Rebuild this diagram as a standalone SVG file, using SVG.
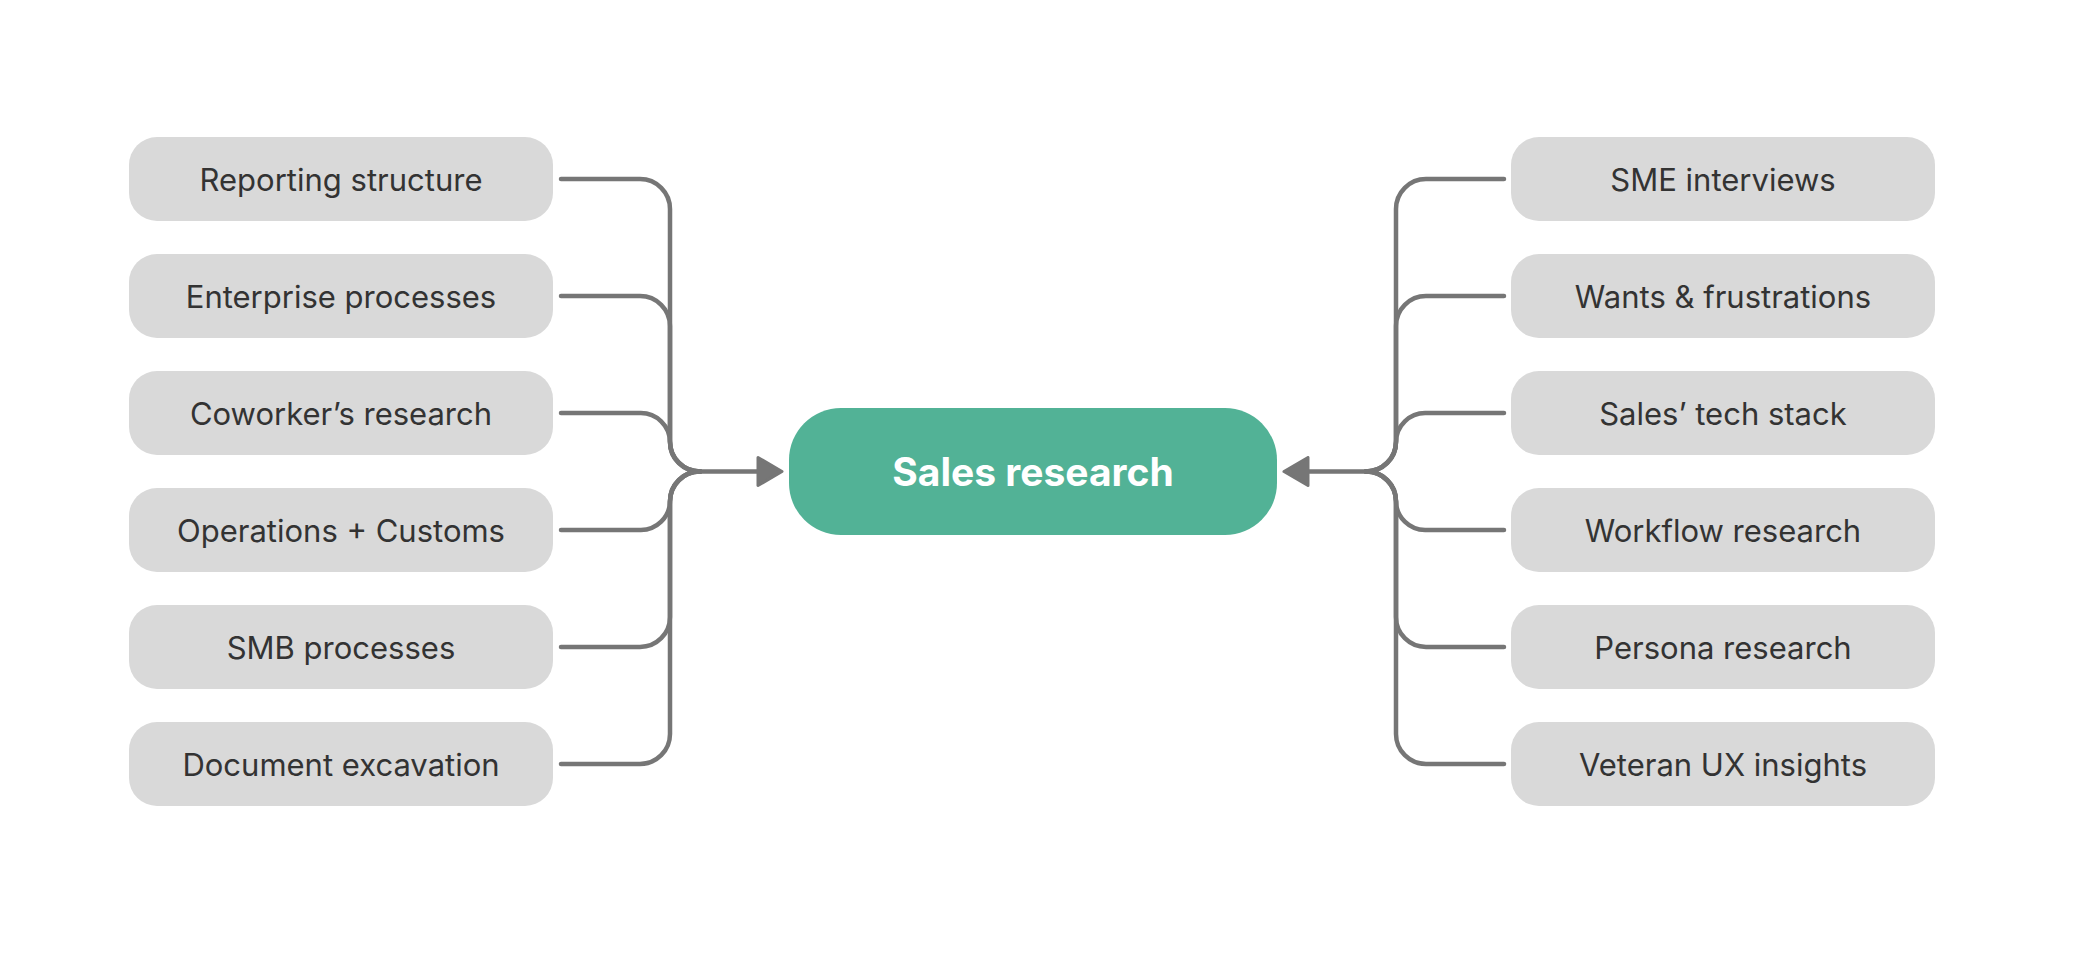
<svg xmlns="http://www.w3.org/2000/svg" width="2086" height="966" viewBox="0 0 2086 966">
<defs>
<style>
.box{fill:#d9d9d9}
.lbl{font-family:Inter,"Liberation Sans",sans-serif;font-size:31px;fill:#333333;text-anchor:middle;dominant-baseline:central}
.ctr{fill:#52b296}
.ctext{font-family:Inter,"Liberation Sans",sans-serif;font-size:39px;font-weight:700;fill:#ffffff;text-anchor:middle;dominant-baseline:central}
.ln{fill:none;stroke:#767676;stroke-width:4.5;stroke-linecap:round;stroke-linejoin:round}
</style>
<marker id="arr" markerUnits="userSpaceOnUse" markerWidth="30" markerHeight="32" viewBox="0 0 30 32" refX="3" refY="16" orient="auto">
<path d="M2,2 L26,16 L2,30 z" fill="#767676" stroke="#767676" stroke-width="3" stroke-linejoin="round"/>
</marker>
</defs>
<rect width="2086" height="966" fill="#ffffff"/>
<g id="connectors">
<path class="ln" d="M561,179 H640 A30,30 0 0 1 670,209 V441.5 A30,30 0 0 0 700,471.5"/>
<path class="ln" d="M561,296 H640 A30,30 0 0 1 670,326 V441.5 A30,30 0 0 0 700,471.5"/>
<path class="ln" d="M561,413 H640 A29.25,29.25 0 0 1 670,442.25 A29.25,29.25 0 0 0 700,471.5"/>
<path class="ln" d="M561,530 H640 A29.25,29.25 0 0 0 670,500.75 A29.25,29.25 0 0 1 700,471.5"/>
<path class="ln" d="M561,647 H640 A30,30 0 0 0 670,617 V501.5 A30,30 0 0 1 700,471.5"/>
<path class="ln" d="M561,764 H640 A30,30 0 0 0 670,734 V501.5 A30,30 0 0 1 700,471.5"/>
<path class="ln" d="M700,471.5 H759" marker-end="url(#arr)"/>
<path class="ln" d="M1504,179 H1426 A30,30 0 0 0 1396,209 V441.5 A30,30 0 0 1 1366,471.5"/>
<path class="ln" d="M1504,296 H1426 A30,30 0 0 0 1396,326 V441.5 A30,30 0 0 1 1366,471.5"/>
<path class="ln" d="M1504,413 H1426 A29.25,29.25 0 0 0 1396,442.25 A29.25,29.25 0 0 1 1366,471.5"/>
<path class="ln" d="M1504,530 H1426 A29.25,29.25 0 0 1 1396,500.75 A29.25,29.25 0 0 0 1366,471.5"/>
<path class="ln" d="M1504,647 H1426 A30,30 0 0 1 1396,617 V501.5 A30,30 0 0 0 1366,471.5"/>
<path class="ln" d="M1504,764 H1426 A30,30 0 0 1 1396,734 V501.5 A30,30 0 0 0 1366,471.5"/>
<path class="ln" d="M1366,471.5 H1307" marker-end="url(#arr)"/>
</g>
<g id="center"><rect class="ctr" x="789" y="408" width="488" height="127" rx="52"/><text class="ctext" x="1033" y="471.5">Sales research</text></g>
<g id="n-reporting"><rect class="box" x="129" y="137" width="424" height="84" rx="28"/><text class="lbl" x="341" y="179">Reporting structure</text></g>
<g id="n-enterprise"><rect class="box" x="129" y="254" width="424" height="84" rx="28"/><text class="lbl" x="341" y="296">Enterprise processes</text></g>
<g id="n-coworker"><rect class="box" x="129" y="371" width="424" height="84" rx="28"/><text class="lbl" x="341" y="413">Coworker’s research</text></g>
<g id="n-operations"><rect class="box" x="129" y="488" width="424" height="84" rx="28"/><text class="lbl" x="341" y="530">Operations + Customs</text></g>
<g id="n-smb"><rect class="box" x="129" y="605" width="424" height="84" rx="28"/><text class="lbl" x="341" y="647">SMB processes</text></g>
<g id="n-document"><rect class="box" x="129" y="722" width="424" height="84" rx="28"/><text class="lbl" x="341" y="764">Document excavation</text></g>
<g id="n-sme"><rect class="box" x="1511" y="137" width="424" height="84" rx="28"/><text class="lbl" x="1723" y="179">SME interviews</text></g>
<g id="n-wants"><rect class="box" x="1511" y="254" width="424" height="84" rx="28"/><text class="lbl" x="1723" y="296">Wants &amp; frustrations</text></g>
<g id="n-techstack"><rect class="box" x="1511" y="371" width="424" height="84" rx="28"/><text class="lbl" x="1723" y="413">Sales’ tech stack</text></g>
<g id="n-workflow"><rect class="box" x="1511" y="488" width="424" height="84" rx="28"/><text class="lbl" x="1723" y="530">Workflow research</text></g>
<g id="n-persona"><rect class="box" x="1511" y="605" width="424" height="84" rx="28"/><text class="lbl" x="1723" y="647">Persona research</text></g>
<g id="n-veteran"><rect class="box" x="1511" y="722" width="424" height="84" rx="28"/><text class="lbl" x="1723" y="764">Veteran UX insights</text></g>
</svg>
